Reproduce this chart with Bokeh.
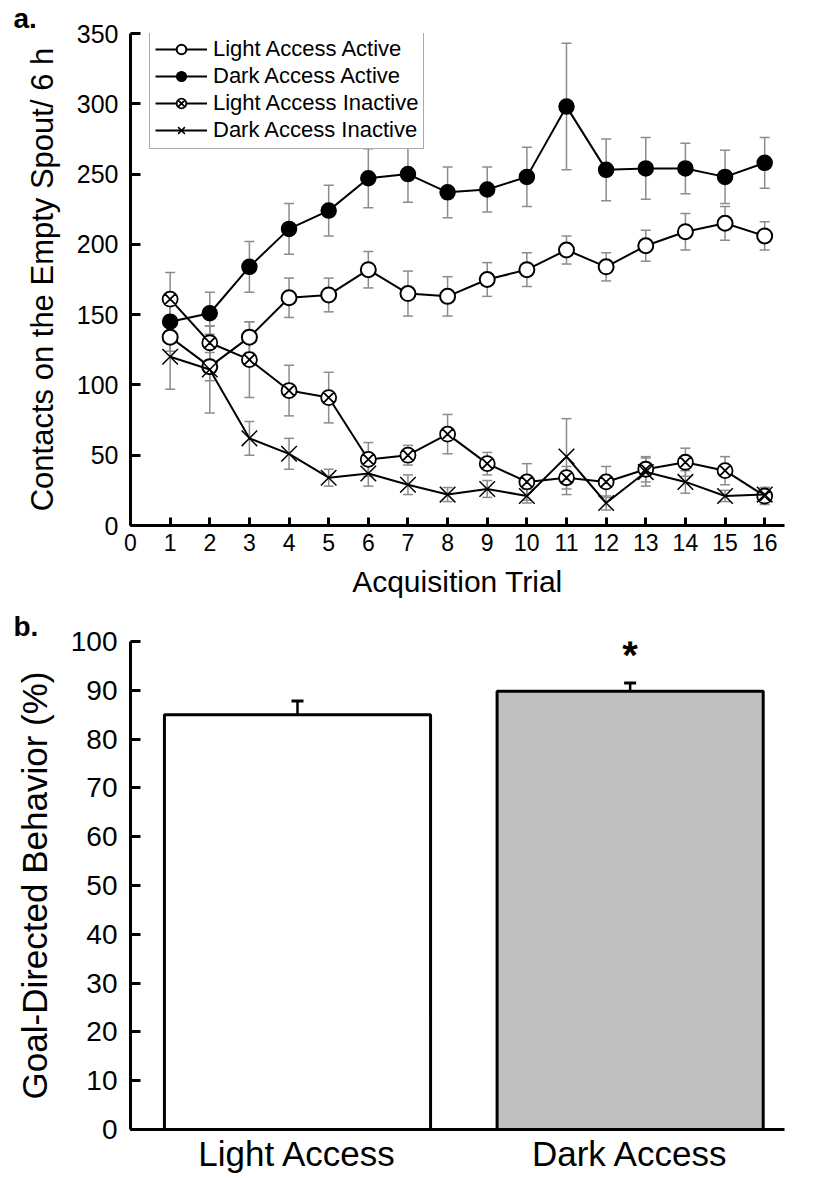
from bokeh.plotting import figure
from bokeh.models import (ColumnDataSource, Whisker, TeeHead, FixedTicker, Legend,
                          LegendItem, Label)
from bokeh.layouts import column
from bokeh.embed import file_html
from bokeh.resources import INLINE

# ---------------- data: panel a ----------------
trials = [1, 2, 3, 4, 5, 6, 7, 8, 9, 10, 11, 12, 13, 14, 15, 16]
light_active = [134, 113, 134, 162, 164, 182, 165, 163, 175, 182, 196, 184, 199, 209, 215, 206]
light_active_err = [10, 10, 11, 14, 12, 13, 16, 14, 12, 12, 10, 10, 11, 13, 12, 10]
dark_active = [145, 151, 184, 211, 224, 247, 250, 237, 239, 248, 298, 253, 254, 254, 248, 258]
dark_active_err = [12, 15, 18, 18, 18, 21, 20, 18, 16, 21, 45, 22, 22, 18, 19, 18]
light_inactive = [161, 130, 118, 96, 91, 47, 50, 65, 44, 31, 34, 31, 40, 45, 39, 21]
light_inactive_err = [19, 12, 27, 18, 18, 12, 7, 14, 8, 13, 8, 11, 9, 10, 10, 6]
dark_inactive = [120, 111, 62, 51, 34, 37, 29, 22, 26, 21, 49, 16, 38, 31, 21, 22]
dark_inactive_err = [23, 31, 12, 11, 6, 9, 7, 5, 6, 5, 27, 5, 10, 8, 4, 5]
series_names = ["Light Access Active", "Dark Access Active",
                "Light Access Inactive", "Dark Access Inactive"]
x_ticks_a = [0, 1, 2, 3, 4, 5, 6, 7, 8, 9, 10, 11, 12, 13, 14, 15, 16]
y_ticks_a = [0, 50, 100, 150, 200, 250, 300, 350]

# ---------------- data: panel b ----------------
groups = ["Light Access", "Dark Access"]
group_pos = [1, 2]
goal_directed = [85.0, 89.8]
goal_directed_err = [2.8, 1.7]
y_ticks_b = [0, 10, 20, 30, 40, 50, 60, 70, 80, 90, 100]

FONT = "Liberation Sans"


def style_axes(p, tick_size_x, tick_size_y):
    for ax in p.xaxis + p.yaxis:
        ax.axis_line_width = 3
        ax.axis_line_color = "black"
        ax.major_tick_line_width = 3
        ax.major_tick_line_color = "black"
        ax.minor_tick_line_color = None
        ax.major_label_text_font = FONT
        ax.axis_label_text_font = FONT
        ax.axis_label_text_font_style = "normal"
        ax.major_label_text_color = "black"
        ax.axis_label_text_color = "black"
    p.xaxis.major_label_text_font_size = tick_size_x
    p.yaxis.major_label_text_font_size = tick_size_y


def panel_letter(p, letter, offset):
    p.title.text = letter
    p.title.text_font = FONT
    p.title.text_font_size = "28px"
    p.title.text_font_style = "bold"
    p.title.text_color = "black"
    p.title.align = "left"
    p.title.offset = offset
    p.title.standoff = 0


# ================= panel a =================
p1 = figure(width=820, height=608, x_range=(0, 16.5), y_range=(0, 350),
            output_backend="svg", toolbar_location=None,
            min_border_left=126, min_border_right=36, min_border_top=31,
            min_border_bottom=83)
panel_letter(p1, "a.", -117)
p1.grid.visible = False
p1.outline_line_color = None
p1.xaxis.ticker = FixedTicker(ticks=x_ticks_a)
p1.yaxis.ticker = FixedTicker(ticks=y_ticks_a)
style_axes(p1, "23px", "25px")
p1.xaxis.major_tick_in = 8
p1.xaxis.major_tick_out = 0
p1.yaxis.major_tick_in = 10
p1.yaxis.major_tick_out = 0
p1.xaxis.major_label_standoff = 8
p1.yaxis.major_label_standoff = 12
p1.xaxis.axis_label = "Acquisition Trial"
p1.yaxis.axis_label = "Contacts on the Empty Spout/ 6 h"
p1.xaxis.axis_label_text_font_size = "30px"
p1.yaxis.axis_label_text_font_size = "31px"
p1.xaxis.axis_label_standoff = 11
p1.yaxis.axis_label_standoff = 14

means = [light_active, dark_active, light_inactive, dark_inactive]
errs = [light_active_err, dark_active_err, light_inactive_err, dark_inactive_err]
markers = ["circle", "circle", "circle_x", "x"]
fills = ["white", "black", "white", None]
sizes = [15, 15, 15, 22]
mlw = [2, 1.5, 1.8, 1.5]

items = []
for name, m, e, mk, fc, sz, lw in zip(series_names, means, errs, markers, fills, sizes, mlw):
    src = ColumnDataSource(dict(
        x=trials, y=m,
        upper=[a + b for a, b in zip(m, e)],
        lower=[a - b for a, b in zip(m, e)],
    ))
    wk = Whisker(base="x", upper="upper", lower="lower", source=src,
                 line_color="#8c8c8c", line_width=1.5,
                 upper_head=TeeHead(size=10, line_color="#8c8c8c", line_width=1.5),
                 lower_head=TeeHead(size=10, line_color="#8c8c8c", line_width=1.5),
                 level="underlay")
    p1.add_layout(wk)
    lr = p1.line("x", "y", source=src, line_color="black", line_width=2)
    if fc is None:
        sr = p1.scatter("x", "y", source=src, marker=mk, size=sz,
                        line_color="black", line_width=lw)
    else:
        sr = p1.scatter("x", "y", source=src, marker=mk, size=sz,
                        line_color="black", fill_color=fc, line_width=lw)
    items.append(LegendItem(label=name, renderers=[lr, sr]))

legend = Legend(items=items, location=(19, 376),
                border_line_color="#555555", border_line_width=1.5,
                background_fill_color="white", background_fill_alpha=1,
                label_text_font=FONT, label_text_font_size="22px",
                label_text_color="black",
                glyph_width=52, glyph_height=24, label_height=24,
                spacing=1, padding=5, margin=0, label_standoff=6)
p1.add_layout(legend)

# ================= panel b =================
p2 = figure(width=820, height=567, x_range=(0.498, 2.464), y_range=(0, 100),
            output_backend="svg", toolbar_location=None,
            min_border_left=130, min_border_right=1, min_border_top=31,
            min_border_bottom=44)
panel_letter(p2, "b.", -117)
p2.grid.visible = False
p2.outline_line_color = None
p2.xaxis.ticker = FixedTicker(ticks=group_pos)
p2.xaxis.major_label_overrides = {pos: g for pos, g in zip(group_pos, groups)}
p2.yaxis.ticker = FixedTicker(ticks=y_ticks_b)
style_axes(p2, "35px", "28px")
p2.xaxis.major_tick_in = 0
p2.xaxis.major_tick_out = 0
p2.xaxis.major_label_standoff = 4
p2.yaxis.major_tick_in = 10
p2.yaxis.major_tick_out = 0
p2.yaxis.major_label_standoff = 13
p2.yaxis.axis_label = "Goal-Directed Behavior (%)"
p2.yaxis.axis_label_text_font_size = "35px"
p2.yaxis.axis_label_standoff = 14

bsrc = ColumnDataSource(dict(
    x=group_pos, top=goal_directed,
    upper=[a + b for a, b in zip(goal_directed, goal_directed_err)],
    lower=[a - b for a, b in zip(goal_directed, goal_directed_err)],
    color=["white", "#c0c0c0"],
))
p2.vbar(x="x", top="top", bottom=0, width=0.8, source=bsrc,
        fill_color="color", line_color="black", line_width=3)
p2.add_layout(Whisker(base="x", upper="upper", lower="lower", source=bsrc,
                      line_color="black", line_width=2.5,
                      upper_head=TeeHead(size=12, line_color="black", line_width=3),
                      lower_head=TeeHead(size=12, line_color="black", line_width=3)))

star_y = goal_directed[1] + goal_directed_err[1] + 5.7
p2.add_layout(Label(x=group_pos[1], y=star_y, text="*", text_font=FONT,
                    text_font_size="40px", text_font_style="bold",
                    text_color="black", text_align="center",
                    text_baseline="alphabetic"))

layout = column(p1, p2, spacing=0)
open("out.html", "w").write(file_html(layout, INLINE))
